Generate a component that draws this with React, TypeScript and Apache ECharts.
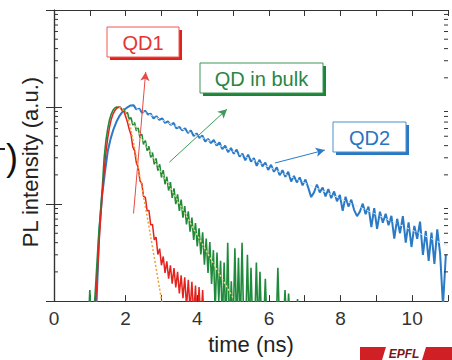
import React, { useEffect, useRef } from "react";
import * as echarts from "echarts";

// ---- data (time in ns, PL intensity normalised, a.u.) ----
const qd1Start = 1.05;
const qd1Step = 0.05;
const qd1Values = [
  0.004, 0.006, 0.009, 0.016, 0.035, 0.07, 0.13, 0.22, 0.34, 0.48,
  0.62, 0.75, 0.85, 0.92, 0.97, 1.0, 0.99, 0.94, 0.9, 0.8,
  0.7, 0.59, 0.519, 0.389, 0.355, 0.266, 0.24, 0.174, 0.164, 0.12,
  0.117, 0.0851, 0.0861, 0.061, 0.0617, 0.0427, 0.0457, 0.0302, 0.0347, 0.0234,
  0.0288, 0.0195, 0.0257, 0.017, 0.0234, 0.0151, 0.0219, 0.0138, 0.02, 0.012,
  0.0184, 0.0107, 0.0176, 0.0087, 0.0166, 0.008, 0.0158, 0.007, 0.0145, 0.006,
  0.014, 0.006, 0.013, 0.005, 0.005,
];

const bulkStart = 0.95;
const bulkStep = 0.05;
const bulkValues = [
  0.005, 0.013, 0.005, 0.007, 0.012, 0.025, 0.05, 0.085, 0.15, 0.3,
  0.45, 0.6, 0.74, 0.85, 0.93, 0.98, 1.0, 0.99, 1.0, 0.923,
  0.955, 0.851, 0.881, 0.75, 0.776, 0.653, 0.692, 0.569, 0.61, 0.484,
  0.525, 0.412, 0.452, 0.355, 0.394, 0.302, 0.339, 0.257, 0.295, 0.221,
  0.257, 0.188, 0.224, 0.16, 0.191, 0.138, 0.168, 0.116, 0.145, 0.1,
  0.126, 0.0851, 0.111, 0.0724, 0.0955, 0.0617, 0.0841, 0.0519, 0.0724, 0.0427,
  0.0638, 0.0367, 0.0562, 0.0302, 0.0513, 0.0237, 0.0442, 0.0195, 0.0407, 0.015,
  0.0335, 0.008, 0.0316, 0.01, 0.026, 0.006, 0.025, 0.005, 0.04, 0.005,
  0.016, 0.005, 0.035, 0.005, 0.028, 0.005, 0.04, 0.005, 0.005, 0.03,
  0.005, 0.022, 0.005, 0.005, 0.025, 0.005, 0.02, 0.005, 0.005, 0.017,
  0.005, 0.005, 0.005, 0.005, 0.005, 0.005, 0.022, 0.005, 0.005, 0.005,
  0.013, 0.005, 0.012, 0.005, 0.005, 0.005, 0.005, 0.0105, 0.005,
];

const qd2Start = 1.1;
const qd2Step = 0.08;
const qd2Values = [
  0.004, 0.008, 0.05, 0.12, 0.21, 0.35, 0.47, 0.59, 0.7, 0.8,
  0.88, 0.95, 1.0, 1.04,
  1.045, 0.946, 0.962, 0.871, 0.916, 0.839, 0.853, 0.764, 0.804, 0.736,
  0.766, 0.686, 0.713, 0.653, 0.687, 0.601, 0.625, 0.573, 0.603, 0.54,
  0.574, 0.502, 0.535, 0.479, 0.509, 0.441, 0.469, 0.425, 0.457, 0.4,
  0.431, 0.368, 0.401, 0.343, 0.378, 0.33, 0.364, 0.308, 0.331, 0.283,
  0.323, 0.273, 0.297, 0.248, 0.286, 0.245, 0.267, 0.225, 0.254, 0.215,
  0.239, 0.198, 0.223, 0.191, 0.215, 0.171, 0.195, 0.167, 0.188, 0.156,
  0.179, 0.147, 0.118, 0.132, 0.159, 0.132, 0.148, 0.12, 0.143, 0.115,
  0.135, 0.107, 0.124, 0.0851, 0.119, 0.0942, 0.111, 0.0867, 0.075, 0.0836,
  0.101, 0.0787, 0.094, 0.058, 0.0906, 0.0555, 0.0834, 0.0643, 0.0794, 0.0605,
  0.0757, 0.044, 0.0705, 0.0501, 0.075, 0.04, 0.0647, 0.0361, 0.0596, 0.0439,
  0.066, 0.03, 0.0528, 0.026, 0.0509, 0.0242, 0.055, 0.0308, 0.009, 0.0302,
];

// exponential fits (dotted / dashed guide lines)
const qd1Fit = [[1.82, 1.0], [2.0, 0.88], [2.15, 0.58], [2.4, 0.19], [2.7, 0.046], [3.04, 0.0085]];
const bulkFit = [[2.2, 0.7], [5.0, 0.0108]];
const qd2Fit = [[2.3, 0.96], [11, 0.037]];

// annotation arrows: [tail, head] in data coordinates
const qd1Arrow = [[2.22, 0.08], [2.56, 2.3]];
const bulkArrow = [[3.22, 0.27], [4.83, 0.95]];
const qd2Arrow = [[6.17, 0.265], [7.56, 0.36]];

const xMin = 0;
const xMax = 11;
const yMin = 0.01;
const yMax = 10;
const minorTickValues = [
  0.02, 0.03, 0.04, 0.05, 0.06, 0.07, 0.08, 0.09,
  0.2, 0.3, 0.4, 0.5, 0.6, 0.7, 0.8, 0.9,
  2, 3, 4, 5, 6, 7, 8, 9,
];

const FONT = "'Liberation Sans', Arial, Helvetica, sans-serif";
const RED = "#e3241e";
const GREEN = "#1f8a3b";
const BLUE = "#2a7ac6";
const AXIS = "#333333";

function toPairs(start: number, step: number, values: number[]) {
  return values.map((v, i) => [Number((start + i * step).toFixed(3)), v]);
}

function arrowMark(color: string, pts: number[][]) {
  return {
    silent: true,
    symbol: ["none", "arrow"],
    symbolSize: [7, 9],
    lineStyle: { color, width: 1, type: "solid" },
    label: { show: false },
    emphasis: { disabled: true },
    data: [[{ coord: pts[0] }, { coord: pts[1] }]],
  };
}

function box(x: number, y: number, w: number, h: number, border: string, shadow: string, text: string, textColor: string) {
  return [
    { type: "rect", silent: true, shape: { x: x + 3, y: y + 3, width: w, height: h }, style: { fill: shadow } },
    { type: "rect", silent: true, shape: { x, y, width: w, height: h }, style: { fill: "#ffffff", stroke: border, lineWidth: 1 } },
    {
      type: "text",
      silent: true,
      x: x + w / 2,
      y: y + h / 2 + 1,
      style: {
        text,
        fill: textColor,
        font: `20px ${FONT}`,
        align: "center",
        verticalAlign: "middle",
        textAlign: "center",
        textVerticalAlign: "middle",
      },
    },
  ];
}

export default function App() {
  const ref = useRef<HTMLDivElement>(null);

  useEffect(() => {
    if (!ref.current) return;
    const chart = echarts.init(ref.current, undefined, { renderer: "svg" });

    const lineBase = {
      type: "line",
      showSymbol: false,
      symbol: "none",
      clip: true,
      silent: true,
      xAxisIndex: 0,
      yAxisIndex: 0,
    };

    const option: any = {
      animation: false,
      grid: { left: 54, right: 4, top: 10, bottom: 55, containLabel: false },
      xAxis: [
        {
          type: "value",
          min: xMin,
          max: xMax,
          interval: 1,
          position: "bottom",
          name: "time (ns)",
          nameLocation: "middle",
          nameGap: 24,
          nameTextStyle: { fontSize: 22, color: "#222", fontFamily: FONT, verticalAlign: "top" },
          axisLine: { show: true, lineStyle: { color: AXIS, width: 1.2 } },
          axisTick: { show: true, inside: true, length: 6, lineStyle: { color: AXIS } },
          axisLabel: {
            show: true,
            margin: 8,
            fontSize: 19,
            color: "#333",
            fontFamily: FONT,
            formatter: (v: number) => (v % 2 === 0 && v <= 10 ? String(v) : ""),
          },
          splitLine: { show: false },
        },
        {
          type: "value",
          min: xMin,
          max: xMax,
          interval: 1,
          position: "top",
          axisLine: { show: true, lineStyle: { color: AXIS, width: 1.2 } },
          axisTick: { show: true, inside: true, length: 6, lineStyle: { color: AXIS } },
          axisLabel: { show: false },
          splitLine: { show: false },
        },
      ],
      yAxis: [
        {
          type: "log",
          logBase: 10,
          min: yMin,
          max: yMax,
          position: "left",
          name: "PL intensity (a.u.)",
          nameLocation: "middle",
          nameGap: 13,
          nameTextStyle: { fontSize: 22, color: "#222", fontFamily: FONT, padding: [0, 13, 0, 0] },
          axisLine: { show: true, lineStyle: { color: AXIS, width: 1.2 } },
          axisTick: { show: true, inside: true, length: 8, lineStyle: { color: AXIS } },
          axisLabel: { show: false },
          splitLine: { show: false },
        },
        {
          type: "log",
          logBase: 10,
          min: yMin,
          max: yMax,
          position: "right",
          axisLine: { show: true, lineStyle: { color: AXIS, width: 1.2 } },
          axisTick: { show: true, inside: true, length: 8, lineStyle: { color: AXIS } },
          axisLabel: { show: false },
          splitLine: { show: false },
        },
      ],
      series: [
        {
          ...lineBase,
          name: "QD2",
          data: toPairs(qd2Start, qd2Step, qd2Values),
          lineStyle: { color: BLUE, width: 2 },
          markLine: arrowMark(BLUE, qd2Arrow),
          z: 2,
        },
        {
          ...lineBase,
          name: "QD2 fit",
          data: qd2Fit,
          lineStyle: { color: "#d6e8f7", width: 1, type: [4, 3] },
          z: 3,
        },
        {
          ...lineBase,
          name: "QD in bulk",
          data: toPairs(bulkStart, bulkStep, bulkValues),
          lineStyle: { color: GREEN, width: 1.6 },
          markLine: arrowMark("#3f9a5a", bulkArrow),
          z: 4,
        },
        {
          ...lineBase,
          name: "QD in bulk fit",
          data: bulkFit,
          lineStyle: { color: "#e6e08c", width: 1.3, type: [2, 2] },
          z: 5,
        },
        {
          ...lineBase,
          name: "QD1",
          data: toPairs(qd1Start, qd1Step, qd1Values),
          lineStyle: { color: RED, width: 1.5 },
          markLine: arrowMark("#e84a45", qd1Arrow),
          z: 6,
        },
        {
          ...lineBase,
          name: "QD1 fit",
          data: qd1Fit,
          smooth: 0.3,
          lineStyle: { color: "#f2a03a", width: 1.5, type: [2, 2] },
          z: 7,
        },
        {
          type: "custom",
          name: "minor ticks",
          silent: true,
          clip: false,
          z: 10,
          xAxisIndex: 0,
          yAxisIndex: 0,
          data: minorTickValues.map((v) => [xMin, v]),
          renderItem: (params: any, api: any) => {
            const v = api.value(1);
            const l = api.coord([xMin, v]);
            const r = api.coord([xMax, v]);
            return {
              type: "group",
              children: [
                { type: "line", shape: { x1: l[0], y1: l[1], x2: l[0] + 4, y2: l[1] }, style: { stroke: AXIS, lineWidth: 1 } },
                { type: "line", shape: { x1: r[0] - 4, y1: r[1], x2: r[0], y2: r[1] }, style: { stroke: AXIS, lineWidth: 1 } },
              ],
            };
          },
        },
      ],
      graphic: [
        ...box(107, 27, 72, 30, "#ea5b55", "#e0221c", "QD1", "#e4362f"),
        ...box(200, 63, 123, 30, "#3e9659", "#1d8438", "QD in bulk", "#2a8543"),
        ...box(333, 122, 73, 30, "#4b8fcf", "#2a78c4", "QD2", "#2a74bf"),
        {
          type: "text",
          silent: true,
          x: 12,
          y: 157,
          style: {
            text: ")",
            fill: "#111",
            font: `36px ${FONT}`,
            align: "center",
            verticalAlign: "middle",
            textAlign: "center",
            textVerticalAlign: "middle",
          },
        },
        { type: "rect", silent: true, shape: { x: 0, y: 148, width: 5, height: 2 }, style: { fill: "#222" } },
        { type: "rect", silent: true, shape: { x: 360, y: 347, width: 92, height: 13 }, style: { fill: "#d11f26" } },
        {
          type: "polygon",
          silent: true,
          shape: { points: [[386, 347], [426, 347], [422, 360], [382, 360]] },
          style: { fill: "#ffffff" },
        },
        {
          type: "text",
          silent: true,
          x: 404,
          y: 353.5,
          style: {
            text: "EPFL",
            fill: "#7c1515",
            font: `italic bold 12px ${FONT}`,
            align: "center",
            verticalAlign: "middle",
            textAlign: "center",
            textVerticalAlign: "middle",
          },
        },
      ],
    };

    chart.setOption(option);
    return () => chart.dispose();
  }, []);

  return (
    <div
      ref={ref}
      style={{ position: "fixed", left: 0, top: 0, width: 452, height: 360, background: "#ffffff" }}
    />
  );
}
